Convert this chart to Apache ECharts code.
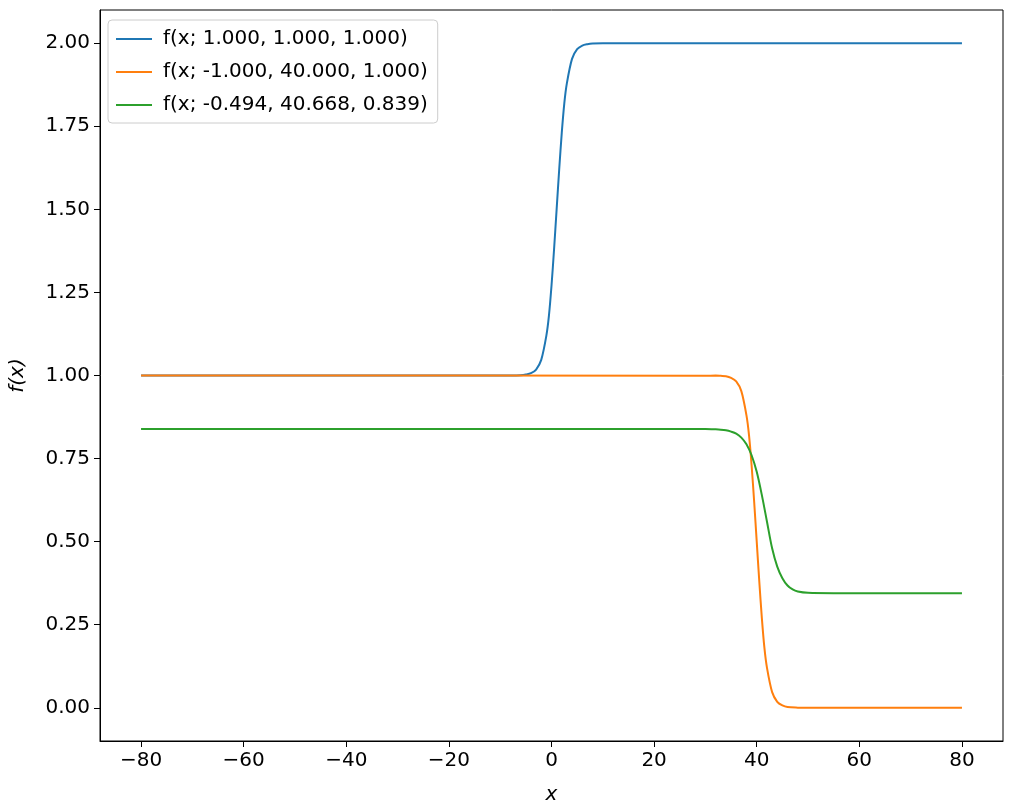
<!DOCTYPE html>
<html><head><meta charset="utf-8">
<script src="https://cdn.jsdelivr.net/npm/echarts@6/dist/echarts.min.js"></script>
<style>html,body{margin:0;padding:0}#c{width:1011px;height:811px}</style>
</head><body><div id="c"></div>
<script>
const names = ['f(x; 1.000, 1.000, 1.000)', 'f(x; -1.000, 40.000, 1.000)', 'f(x; -0.494, 40.668, 0.839)'];
const colors = ['#1f77b4', '#ff7f0e', '#2ca02c'];
const xTicks = [-80, -60, -40, -20, 0, 20, 40, 60, 80];
const yTicks = [0, 0.25, 0.5, 0.75, 1.0, 1.25, 1.5, 1.75, 2.0];
const blue = [[-80,1],[-8,1.0003],[-6,1.001],[-5,1.003],[-4,1.007],[-3,1.018],[-2,1.047],[-1,1.12],[-0.5,1.18],[0,1.27],[0.5,1.38],[1,1.5],[1.5,1.62],[2,1.73],[2.5,1.82],[3,1.88],[4,1.953],[5,1.982],[6,1.993],[7,1.997],[8,1.999],[10,2],[80,2]];
const orange = [[-80,1],[30,0.9995],[32,0.9997],[33,0.999],[34,0.998],[35,0.993],[36,0.982],[37,0.953],[38,0.88],[38.5,0.82],[39,0.73],[39.5,0.62],[40,0.5],[40.5,0.38],[41,0.27],[41.5,0.18],[42,0.12],[43,0.047],[44,0.018],[45,0.007],[46,0.002],[48,0.0003],[50,0],[80,0]];
const green = [[-80,0.839],[30,0.839],[32,0.838],[33,0.837],[34,0.835],[35,0.831],[36,0.825],[37,0.813],[38,0.793],[39,0.76],[40,0.71],[41,0.64],[42,0.56],[43,0.48],[44,0.425],[45,0.39],[46,0.368],[47,0.356],[48,0.35],[50,0.346],[55,0.345],[80,0.345]];
const fmtMinus = v => String(v).replace('-', '\u2212');
const chart = echarts.init(document.getElementById('c'));
const font = 'DejaVu Sans';
chart.setOption({
  animation: false,
  textStyle: {fontFamily: font},
  grid: {left: 97, right: 8, top: 10, bottom: 70, show: true, borderColor: '#000', borderWidth: 1, backgroundColor: 'transparent'},
  legend: {
    orient: 'vertical', left: 108, top: 20, itemGap: 13, itemWidth: 36, itemHeight: 2,
    icon: 'rect',
    data: names, padding: [9, 10, 8, 8],
    borderColor: '#cccccc', borderWidth: 1, borderRadius: 4, backgroundColor: 'rgba(255,255,255,0.8)',
    textStyle: {fontSize: 20, fontFamily: font, color: '#000', padding: [0, 0, 0, 6]}
  },
  xAxis: {
    type: 'value', min: -88, max: 88,
    name: 'x', nameLocation: 'middle', nameGap: 44,
    nameTextStyle: {fontSize: 20, fontStyle: 'italic', fontFamily: font, color: '#000'},
    axisLine: {onZero: false, lineStyle: {color: '#000'}},
    axisTick: {show: true, length: 6, inside: false, customValues: xTicks, lineStyle: {color: '#000'}},
    axisLabel: {customValues: xTicks, fontSize: 20, color: '#000', margin: 10, formatter: fmtMinus},
    splitLine: {show: false}
  },
  yAxis: {
    type: 'value', min: -0.1, max: 2.1,
    name: 'f(x)', nameLocation: 'middle', nameGap: 72, nameRotate: 90,
    nameTextStyle: {fontSize: 20, fontStyle: 'italic', fontFamily: font, color: '#000'},
    axisLine: {show: true, onZero: false, lineStyle: {color: '#000'}},
    axisTick: {show: true, length: 6, customValues: yTicks, lineStyle: {color: '#000'}},
    axisLabel: {customValues: yTicks, fontSize: 20, color: '#000', margin: 10, formatter: v => v.toFixed(2)},
    splitLine: {show: false}
  },
  series: [blue, orange, green].map((d, i) => ({
    name: names[i], type: 'line', data: d, smooth: 0.3, showSymbol: false,
    color: colors[i], lineStyle: {width: 2, color: colors[i]}
  }))
});
</script></body></html>
